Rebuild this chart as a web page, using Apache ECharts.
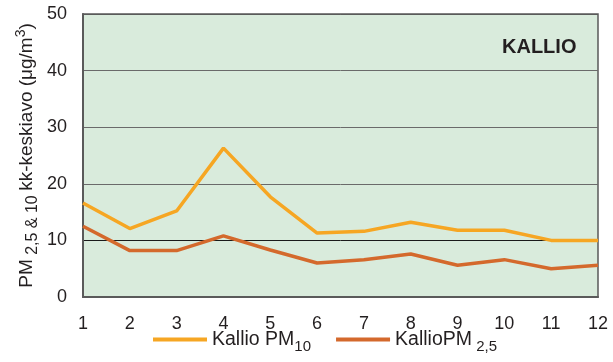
<!DOCTYPE html>
<html>
<head>
<meta charset="utf-8">
<script src="https://cdn.jsdelivr.net/npm/echarts@6/dist/echarts.min.js"></script>
<style>html,body{margin:0;padding:0;background:#fff}#c{width:613px;height:362px}</style>
</head>
<body>
<div id="c"></div>
<script>
var months = ['1','2','3','4','5','6','7','8','9','10','11','12'];
var pm10 = [16.6, 12.1, 15.2, 26.3, 17.7, 11.3, 11.6, 13.2, 11.8, 11.8, 10.0, 10.0];
var pm25 = [12.5, 8.2, 8.2, 10.8, 8.3, 6.0, 6.6, 7.6, 5.6, 6.6, 5.0, 5.6];
var yTicks = [0, 10, 20, 30, 40, 50];

var FONT = 'Liberation Sans, Arial, sans-serif';
var chart = echarts.init(document.getElementById('c'), null, {renderer: 'canvas'});
chart.setOption({
  animation: false,
  title: {
    text: 'KALLIO', left: 497, top: 32,
    textStyle: {fontFamily: FONT, fontSize: 20, fontWeight: 'bold', color: '#231f20'}
  },
  grid: {
    left: 83, top: 14, right: 15, bottom: 65, outerBoundsMode: 'none', containLabel: false,
    show: true, backgroundColor: '#d9ebdc', borderColor: '#5a5a5a', borderWidth: 1.5
  },
  legend: {
    left: 148, top: 320, padding: 5,
    itemWidth: 54, itemHeight: 4, itemGap: 25, icon: 'rect',
    data: ['pm10', 'pm25'],
    formatter: function (n) {
      return n === 'pm10' ? '{a|Kallio PM}{s|10}' : '{a|KallioPM}{s| 2,5}';
    },
    textStyle: {
      fontFamily: FONT, color: '#231f20',
      rich: {
        a: {fontFamily: FONT, fontSize: 19.5, color: '#231f20', lineHeight: 24},
        s: {fontFamily: FONT, fontSize: 15, color: '#231f20', lineHeight: 24, padding: [14, 0, 0, 0]}
      }
    }
  },
  xAxis: {
    type: 'category', data: months, boundaryGap: false,
    axisLine: {show: true, lineStyle: {color: '#5a5a5a', width: 2}},
    axisTick: {show: false},
    axisLabel: {fontFamily: FONT, fontSize: 18, color: '#231f20', margin: 18},
    splitLine: {show: false}
  },
  yAxis: {
    type: 'value', min: 0, max: 50, interval: 10,
    axisLine: {show: true, lineStyle: {color: '#5a5a5a', width: 2}},
    axisTick: {show: false},
    axisLabel: {fontFamily: FONT, fontSize: 18, color: '#231f20', margin: 16,
      formatter: function (v) { return yTicks.indexOf(v) >= 0 ? String(v) : ''; }},
    splitLine: {show: true, lineStyle: {color: ['#5a5a5a', '#1a1a1a', '#6a6a6a', '#6a6a6a', '#6a6a6a', '#5a5a5a'], width: 1}},
    name: '{a|PM}{s| 2,5 & 10 }{a|kk-keskiavo (μg/m}{p|3}{a|)}',
    nameLocation: 'middle', nameRotate: 90, nameGap: 44, nameMoveOverlap: false,
    nameTextStyle: {
      fontFamily: FONT,
      rich: {
        a: {fontFamily: FONT, fontSize: 19, color: '#231f20', lineHeight: 24},
        s: {fontFamily: FONT, fontSize: 16, color: '#231f20', lineHeight: 24, padding: [12, 0, 0, 0]},
        p: {fontFamily: FONT, fontSize: 14, color: '#231f20', lineHeight: 24, padding: [0, 0, 12, 0]}
      }
    }
  },
  series: [
    {name: 'pm10', type: 'line', data: pm10, symbol: 'none', color: '#f6a623',
      lineStyle: {width: 3.5, color: '#f6a623'}, z: 3},
    {name: 'pm25', type: 'line', data: pm25, symbol: 'none', color: '#d4692c',
      lineStyle: {width: 3.5, color: '#d4692c'}, z: 2}
  ]
});
</script>
</body>
</html>
